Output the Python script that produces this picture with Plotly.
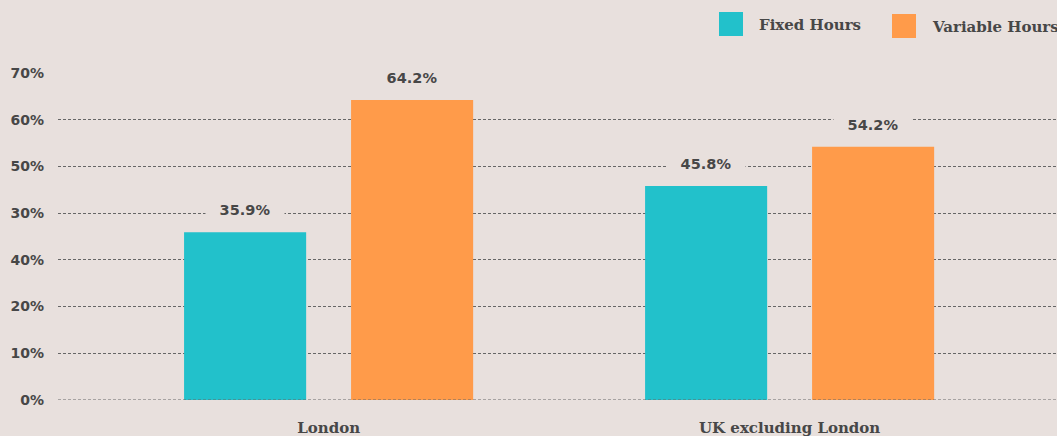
import plotly.graph_objects as go

categories = ["London", "UK excluding London"]
series_names = ["Fixed Hours", "Variable Hours"]
fixed_hours = [35.9, 45.8]
variable_hours = [64.2, 54.2]
y_tick_values = [0, 10, 20, 30, 40, 50, 60, 70]
y_tick_labels = ["0%", "10%", "20%", "40%", "30%", "50%", "60%", "70%"]

BG = "#e8e0dd"
TEXT = "#474747"
GRID = "#666666"
COLORS = ["#22c1cb", "#ff9b4a"]
SANS = "DejaVu Sans"
SLAB = "DejaVu Serif"

fig = go.Figure()
for name, vals, col in zip(series_names, [fixed_hours, variable_hours], COLORS):
    fig.add_trace(go.Bar(x=categories, y=vals, name=name, marker=dict(color=col, line=dict(width=0)),
                         showlegend=False, hoverinfo="skip"))

# value labels
annotations = []
for i, (name, vals) in enumerate(zip(series_names, [fixed_hours, variable_hours])):
    for cat, v in zip(categories, vals):
        annotations.append(dict(
            x=cat, y=v, xref="x", yref="y", text=f"{v:.1f}%", showarrow=False,
            xshift=(-83.5 if i == 0 else 83.5), yshift=22, width=76, height=20,
            bgcolor=BG, font=dict(family=SANS, size=14.5, color=TEXT, weight="bold"),
        ))

# custom legend
legend_px = [(719, 12, 757, 25), (892, 14, 930, 27)]
shapes = []
def px_to_paper_x(px):
    return (px - 58) / 999
def py_to_paper_y(py):
    return (400 - py) / 327
for (sx, sy, tx, ty), name, col in zip(legend_px, series_names, COLORS):
    shapes.append(dict(type="rect", xref="paper", yref="paper",
                       x0=px_to_paper_x(sx), x1=px_to_paper_x(sx + 24),
                       y0=py_to_paper_y(sy + 24), y1=py_to_paper_y(sy),
                       fillcolor=col, line=dict(width=0)))
    annotations.append(dict(x=px_to_paper_x(tx), y=py_to_paper_y(ty), xref="paper", yref="paper",
                            xanchor="left", yanchor="middle", showarrow=False, text=name,
                            font=dict(family=SLAB, size=15, color=TEXT, weight="bold")))

# dashed baseline over bars
shapes.append(dict(type="line", xref="paper", yref="y", x0=0, x1=1, y0=0, y1=0,
                   line=dict(color=GRID, width=1, dash="3px,2px"), layer="above"))

fig.update_layout(
    width=1057, height=436,
    margin=dict(l=58, r=0, t=73, b=36),
    paper_bgcolor=BG, plot_bgcolor=BG,
    barmode="group", bargap=0.2755, bargroupgap=0.269,
    annotations=annotations, shapes=shapes,
    xaxis=dict(range=[-0.587, 1.580], showgrid=False, zeroline=False, showline=False,
               ticks="", ticklabelstandoff=17,
               tickfont=dict(family=SLAB, size=15, color=TEXT, weight="bold")),
    yaxis=dict(range=[0, 70], tickvals=y_tick_values, ticktext=y_tick_labels,
               showgrid=True, gridcolor=GRID, gridwidth=1, griddash="3px,2px",
               zeroline=False, showline=False, ticks="", ticklabelstandoff=13,
               tickfont=dict(family=SANS, size=14, color=TEXT, weight="bold")),
)

fig.write_html("out.html", config={"displayModeBar": False},
               post_script="document.body.style.margin='0';document.body.style.background='#e8e0dd';")
